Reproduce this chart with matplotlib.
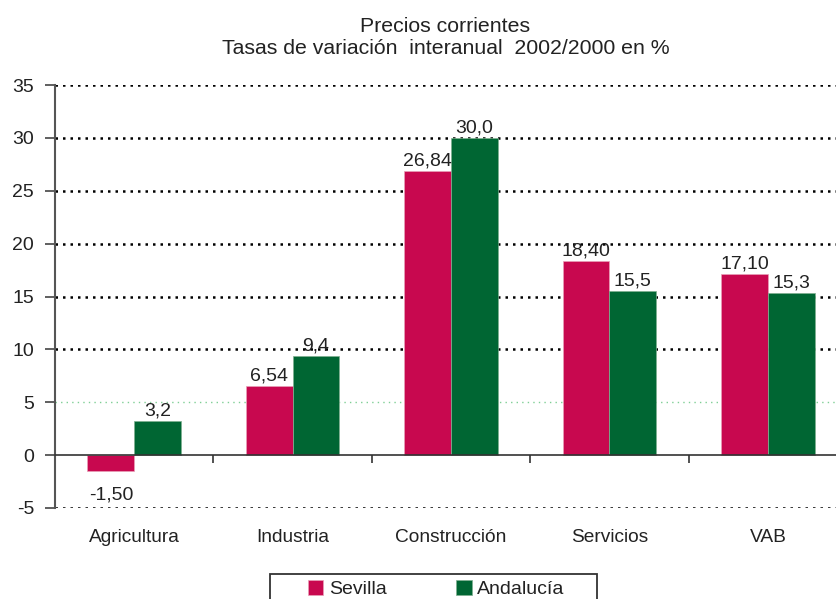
import matplotlib
matplotlib.use("Agg")

import matplotlib.pyplot as plt
from matplotlib.patches import Rectangle
import numpy as np

plt.rcParams["font.family"] = ["Liberation Sans", "DejaVu Sans"]

categories = ["Agricultura", "Industria", "Construcción", "Servicios", "VAB"]
sevilla = [-1.50, 6.54, 26.84, 18.40, 17.10]
andalucia = [3.2, 9.4, 30.0, 15.5, 15.3]
sevilla_labels = ["-1,50", "6,54", "26,84", "18,40", "17,10"]
andalucia_labels = ["3,2", "9,4", "30,0", "15,5", "15,3"]
yticks = [-5, 0, 5, 10, 15, 20, 25, 30, 35]

RED = "#c8084f"
GREEN = "#006633"
TXT = "#222222"

fig = plt.figure(figsize=(8.36, 5.99), dpi=100)
ax = fig.add_axes([55 / 836, 1 - 508 / 599, 781 / 836, 423 / 599])

x = np.arange(len(categories))
w = 0.295

# grid lines
for yv in yticks:
    if yv == 0:
        continue
    if yv == 5:
        ax.axhline(yv, color="#7fcf95", lw=1.0, ls=(0, (1, 3)), zorder=0)
    else:
        ax.axhline(yv, color="black", lw=1.8, ls=(0, (1, 2)), zorder=0)

b1 = ax.bar(x - w / 2, sevilla, w, color=RED, edgecolor="#e8a0b8", lw=0.5, label="Sevilla", zorder=2)
b2 = ax.bar(x + w / 2, andalucia, w, color=GREEN, edgecolor="#80b090", lw=0.5, label="Andalucía", zorder=2)

for xi, v, lab in zip(x, sevilla, sevilla_labels):
    if v < 0:
        ax.annotate(lab, (xi - w / 2, v), xytext=(0, -11), textcoords="offset points",
                    ha="center", va="top", fontsize=14, color=TXT, zorder=3)
    else:
        ax.annotate(lab, (xi - w / 2, v), xytext=(0, 1), textcoords="offset points",
                    ha="center", va="bottom", fontsize=14, color=TXT, zorder=3)
for xi, v, lab in zip(x, andalucia, andalucia_labels):
    ax.annotate(lab, (xi + w / 2, v), xytext=(0, 1), textcoords="offset points",
                ha="center", va="bottom", fontsize=14, color=TXT, zorder=3)

ax.set_ylim(-5, 35)
ax.set_xlim(-0.5, 4.43)
ax.set_yticks(yticks)
ax.set_yticklabels([str(v) for v in yticks], fontsize=14, color=TXT)
ax.tick_params(axis="y", length=7, width=1.2, color="#444444", pad=8)

ax.spines["top"].set_visible(False)
ax.spines["right"].set_visible(False)
ax.spines["left"].set_color("#555555")
ax.spines["left"].set_linewidth(1.5)
ax.spines["bottom"].set_position(("data", 0))
ax.spines["bottom"].set_color("#333333")
ax.spines["bottom"].set_linewidth(1.2)
ax.spines["bottom"].set_zorder(3)

ax.set_xticks(x)
ax.set_xticklabels(categories, fontsize=13.8, color=TXT)
ax.tick_params(axis="x", which="major", length=0, pad=53)
ax.set_xticks(x[:-1] + 0.5, minor=True)
ax.tick_params(axis="x", which="minor", length=6, width=1.2, color="#333333", direction="out")

ax.set_title("Precios corrientes\nTasas de variación  interanual  2002/2000 en %",
             fontsize=15.3, color=TXT, pad=22, linespacing=1.2)

# legend: entries without frame, box drawn separately so it can run off the bottom edge
leg = fig.legend(handles=[b1, b2], loc="upper left",
                 bbox_to_anchor=(304 / 836, 1 - 576 / 599), ncol=2, fontsize=14,
                 frameon=False, handlelength=0.8, handleheight=0.8, handletextpad=0.3,
                 columnspacing=3.55, borderpad=0.2, borderaxespad=0)
for t in leg.get_texts():
    t.set_color(TXT)
fig.patches.append(Rectangle((270 / 836, -0.05), 327 / 836, 0.05 + 25 / 599,
                             transform=fig.transFigure, fill=False,
                             edgecolor="#333333", lw=1.3))

fig.savefig("out.png", dpi=100)
